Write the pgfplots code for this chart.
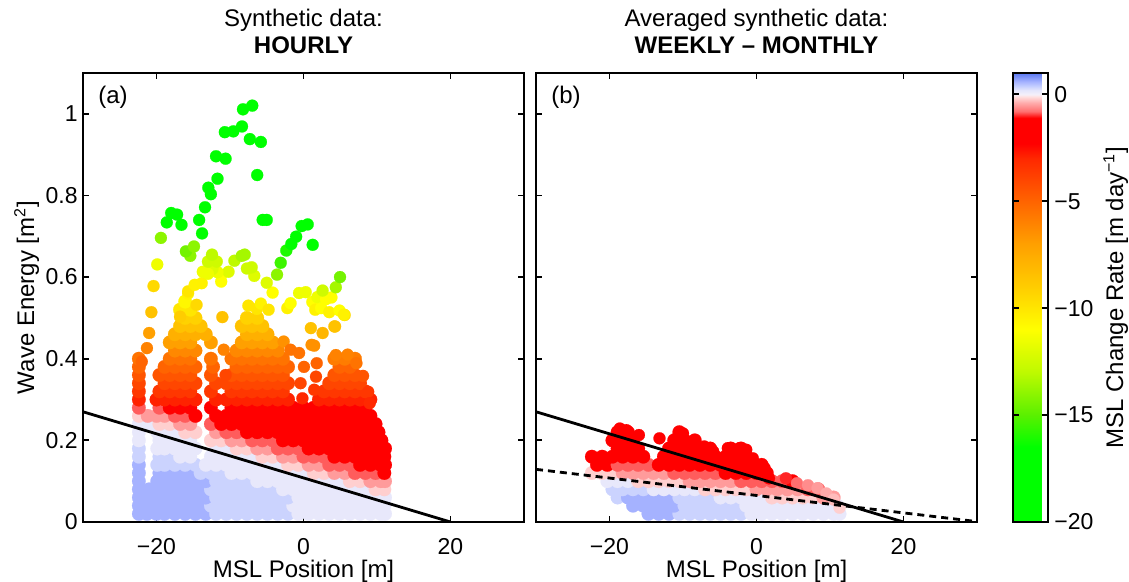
\documentclass[border=0pt]{standalone}
\usepackage{fontspec}
\setmainfont{Liberation Sans}
\usepackage{pgfplots}
\pgfplotsset{compat=1.18}
\usepackage{pgfplotstable}

\pgfplotsset{
  colormap={msl}{rgb255(0pt)=(0,255,0); rgb255(35pt)=(0,255,0); rgb255(50pt)=(90,240,0); rgb255(70pt)=(190,250,0); rgb255(90pt)=(255,255,0); rgb255(110pt)=(255,205,0); rgb255(130pt)=(255,160,0); rgb255(150pt)=(255,100,0); rgb255(170pt)=(255,40,0); rgb255(177pt)=(255,0,0); rgb255(189pt)=(255,0,0); rgb255(192pt)=(255,110,110); rgb255(196pt)=(255,170,170); rgb255(199pt)=(255,225,225); rgb255(200pt)=(245,240,250); rgb255(202pt)=(228,230,252); rgb255(204pt)=(195,205,255); rgb255(206pt)=(165,178,255); rgb255(210pt)=(90,120,240)},
  colorbar shift/.style={xshift=18pt},
  myax/.style={
    scale only axis, width=220.5pt, height=224.5pt,
    xmin=-30, xmax=30, ymin=0, ymax=1.1,
    clip marker paths=true,
    colormap name=msl, point meta min=-20, point meta max=1,
    xtick={-20,0,20}, xticklabels={−20,0,20},
    ytick={0,0.2,0.4,0.6,0.8,1},
    tick align=inside, xtick pos=both, ytick pos=both,
    major tick length=3pt,
    axis line style={line width=0.9pt},
    every tick/.style={black, line width=0.9pt},
    tick label style={font=\fontsize{11.5}{13}\selectfont},
    xticklabel style={anchor=base, inner sep=0pt, yshift=-16.5pt},
    yticklabel style={anchor=east, inner sep=0pt, xshift=-2.5pt},
    every axis x label/.style={at={(axis description cs:0.5,0)}, anchor=base, inner sep=0pt, yshift=-28pt, font=\fontsize{12}{14}\selectfont},
    every axis y label/.style={at={(axis description cs:-0.111,0.5)}, rotate=90, anchor=base, inner sep=0pt, font=\fontsize{12}{14}\selectfont},
    every axis title/.style={at={(axis description cs:0.5,1)}, anchor=south, inner sep=0pt, yshift=9.5pt, align=center, font=\fontsize{12}{13.5}\selectfont},
  },
  dots/.style={scatter, only marks, mark=*, mark size=3.4pt, point meta=explicit,
    scatter/use mapped color={draw=mapped color, fill=mapped color},
    mark options={line width=0.1pt}},
  sdots/.style={dots, mark size=3pt},
}

% Panel (a): dense cloud (x = MSL position, y = wave energy, c = MSL change rate)
\pgfplotstableread[row sep=\\]{
x y c\\
-22.4 0.02 0.6\\ -21.3 0.02 0.6\\ -20.0 0.02 0.6\\ -18.9 0.02 0.6\\ -17.5 0.02 0.6\\ -16.1 0.02 0.6\\ -14.7 0.02 0.6\\ -13.3 0.02 0.6\\ -11.9 0.02 0.35\\ -10.5 0.02 0.35\\ -9.1 0.02 0.35\\ -7.7 0.02 0.35\\ -6.3 0.02 0.35\\ -4.9 0.02 0.35\\ -3.5 0.02 0.35\\ -2.1 0.02 0.35\\ -0.7 0.02 0.15\\ 0.7 0.02 0.15\\ 2.1 0.02 0.15\\ 3.5 0.02 0.15\\ 4.9 0.02 0.15\\ 6.3 0.02 0.15\\ 7.7 0.02 0.15\\ 9.1 0.02 0.15\\ 10.5 0.02 0.15\\ 11.1 0.02 0.15\\
-22.4 0.04 0.6\\ -21.0 0.04 0.6\\ -19.6 0.04 0.6\\ -18.2 0.04 0.6\\ -16.8 0.04 0.6\\ -15.4 0.04 0.6\\ -14.0 0.04 0.6\\ -12.6 0.04 0.35\\ -11.2 0.04 0.35\\ -9.8 0.04 0.35\\ -8.4 0.04 0.35\\ -7.0 0.04 0.35\\ -5.6 0.04 0.35\\ -4.2 0.04 0.35\\ -2.8 0.04 0.35\\ -1.4 0.04 0.15\\ 0.0 0.04 0.15\\ 1.4 0.04 0.15\\ 2.8 0.04 0.15\\ 4.2 0.04 0.15\\ 5.6 0.04 0.15\\ 7.0 0.04 0.15\\ 8.4 0.04 0.15\\ 9.8 0.04 0.15\\ 11.0 0.04 0.15\\
-22.4 0.06 0.6\\ -21.3 0.06 0.6\\ -20.0 0.06 0.6\\ -18.9 0.06 0.6\\ -17.5 0.06 0.6\\ -16.1 0.06 0.6\\ -14.7 0.06 0.6\\ -13.3 0.06 0.6\\ -11.9 0.06 0.35\\ -10.5 0.06 0.35\\ -9.1 0.06 0.35\\ -7.7 0.06 0.35\\ -6.3 0.06 0.35\\ -4.9 0.06 0.35\\ -3.5 0.06 0.35\\ -2.1 0.06 0.35\\ -0.7 0.06 0.15\\ 0.7 0.06 0.15\\ 2.1 0.06 0.15\\ 3.5 0.06 0.15\\ 4.9 0.06 0.15\\ 6.3 0.06 0.15\\ 7.7 0.06 0.15\\ 9.1 0.06 0.15\\ 10.5 0.06 0.15\\ 11.1 0.06 0.15\\
-22.4 0.08 0.6\\ -21.0 0.08 0.6\\ -19.6 0.08 0.6\\ -18.2 0.08 0.6\\ -16.8 0.08 0.6\\ -15.4 0.08 0.6\\ -14.0 0.08 0.6\\ -12.6 0.08 0.35\\ -11.2 0.08 0.35\\ -9.8 0.08 0.35\\ -8.4 0.08 0.35\\ -7.0 0.08 0.35\\ -5.6 0.08 0.35\\ -4.2 0.08 0.35\\ -2.8 0.08 0.15\\ -1.4 0.08 0.15\\ 0.0 0.08 0.15\\ 1.4 0.08 0.15\\ 2.8 0.08 0.15\\ 4.2 0.08 0.15\\ 5.6 0.08 0.15\\ 7.0 0.08 0.15\\ 8.4 0.08 0.15\\ 9.8 0.08 -0.2\\ 11.0 0.08 -0.2\\
-22.4 0.10 0.6\\ -19.9 0.10 0.6\\ -18.9 0.10 0.6\\ -17.5 0.10 0.6\\ -16.1 0.10 0.6\\ -14.7 0.10 0.6\\ -13.3 0.10 0.6\\ -11.9 0.10 0.35\\ -10.5 0.10 0.35\\ -9.1 0.10 0.35\\ -7.7 0.10 0.35\\ -6.3 0.10 0.15\\ -4.9 0.10 0.15\\ -3.5 0.10 0.15\\ -2.1 0.10 0.15\\ -0.7 0.10 0.15\\ 0.7 0.10 0.15\\ 2.1 0.10 0.15\\ 3.5 0.10 0.15\\ 4.9 0.10 0.15\\ 6.3 0.10 -0.2\\ 7.7 0.10 -0.2\\ 9.1 0.10 -0.5\\ 10.5 0.10 -0.5\\ 11.1 0.10 -0.5\\
-22.4 0.12 0.6\\ -19.6 0.12 0.6\\ -18.2 0.12 0.6\\ -16.8 0.12 0.6\\ -15.4 0.12 0.6\\ -14.0 0.12 0.35\\ -12.6 0.12 0.35\\ -11.2 0.12 0.35\\ -9.8 0.12 0.15\\ -8.4 0.12 0.15\\ -7.0 0.12 0.15\\ -5.6 0.12 0.15\\ -4.2 0.12 0.15\\ -2.8 0.12 0.15\\ -1.4 0.12 0.15\\ 0.0 0.12 0.15\\ 1.4 0.12 -0.2\\ 2.8 0.12 -0.2\\ 4.2 0.12 -0.5\\ 5.6 0.12 -0.5\\ 7.0 0.12 -0.85\\ 8.4 0.12 -0.85\\ 9.8 0.12 -0.85\\ 11.0 0.12 -2\\
-22.4 0.14 0.6\\ -19.9 0.14 0.35\\ -18.9 0.14 0.35\\ -17.5 0.14 0.35\\ -16.1 0.14 0.35\\ -14.7 0.14 0.35\\ -13.3 0.14 0.15\\ -11.9 0.14 0.15\\ -10.5 0.14 0.15\\ -9.1 0.14 0.15\\ -7.7 0.14 0.15\\ -6.3 0.14 0.15\\ -4.9 0.14 0.15\\ -3.5 0.14 0.15\\ -2.1 0.14 -0.2\\ -0.7 0.14 -0.2\\ 0.7 0.14 -0.5\\ 2.1 0.14 -0.5\\ 3.5 0.14 -0.85\\ 4.9 0.14 -0.85\\ 6.3 0.14 -0.85\\ 7.7 0.14 -2\\ 9.1 0.14 -2\\ 10.5 0.14 -2\\ 11.1 0.14 -2\\
-22.4 0.16 0.35\\ -19.6 0.16 0.35\\ -18.2 0.16 0.35\\ -16.8 0.16 0.15\\ -15.4 0.16 0.15\\ -12.6 0.16 0.15\\ -11.2 0.16 0.15\\ -9.8 0.16 0.15\\ -8.4 0.16 0.15\\ -7.0 0.16 0.15\\ -5.6 0.16 -0.2\\ -4.2 0.16 -0.2\\ -2.8 0.16 -0.5\\ -1.4 0.16 -0.5\\ 0.0 0.16 -0.85\\ 1.4 0.16 -0.85\\ 2.8 0.16 -0.85\\ 4.2 0.16 -2\\ 5.6 0.16 -2\\ 7.0 0.16 -2\\ 8.4 0.16 -2\\ 9.8 0.16 -2\\ 11.0 0.16 -2\\
-22.4 0.18 0.35\\ -19.9 0.18 0.15\\ -18.9 0.18 0.15\\ -17.5 0.18 0.15\\ -16.1 0.18 0.15\\ -14.7 0.18 0.15\\ -11.9 0.18 0.15\\ -10.5 0.18 0.15\\ -9.1 0.18 -0.2\\ -7.7 0.18 -0.2\\ -6.3 0.18 -0.5\\ -4.9 0.18 -0.5\\ -3.5 0.18 -0.85\\ -2.1 0.18 -0.85\\ -0.7 0.18 -0.85\\ 0.7 0.18 -2\\ 2.1 0.18 -2\\ 3.5 0.18 -2\\ 4.9 0.18 -2\\ 6.3 0.18 -2\\ 7.7 0.18 -2\\ 9.1 0.18 -2\\ 10.5 0.18 -2\\ 11.1 0.18 -2\\
-22.4 0.20 0.15\\ -19.6 0.20 0.15\\ -18.2 0.20 0.15\\ -16.8 0.20 0.15\\ -15.4 0.20 0.15\\ -12.6 0.20 -0.2\\ -11.2 0.20 -0.2\\ -9.8 0.20 -0.5\\ -8.4 0.20 -0.5\\ -7.0 0.20 -0.85\\ -5.6 0.20 -0.85\\ -4.2 0.20 -0.85\\ -2.8 0.20 -2\\ -1.4 0.20 -2\\ 0.0 0.20 -2\\ 1.4 0.20 -2\\ 2.8 0.20 -2\\ 4.2 0.20 -2\\ 5.6 0.20 -2\\ 7.0 0.20 -2\\ 8.4 0.20 -2\\ 9.8 0.20 -2\\ 10.6 0.20 -2\\
-22.4 0.22 0.15\\ -19.9 0.22 0.15\\ -18.9 0.22 0.15\\ -17.5 0.22 0.15\\ -16.1 0.22 -0.2\\ -14.7 0.22 -0.2\\ -11.9 0.22 -0.5\\ -10.5 0.22 -0.85\\ -9.1 0.22 -0.85\\ -7.7 0.22 -2\\ -6.3 0.22 -2\\ -4.9 0.22 -2\\ -3.5 0.22 -2\\ -2.1 0.22 -2\\ -0.7 0.22 -2\\ 0.7 0.22 -2\\ 2.1 0.22 -2\\ 3.5 0.22 -2\\ 4.9 0.22 -2\\ 6.3 0.22 -2\\ 7.7 0.22 -2\\ 9.1 0.22 -2\\ 10.2 0.22 -2\\
-22.4 0.24 0.15\\ -21.0 0.24 0.15\\ -19.6 0.24 -0.2\\ -18.2 0.24 -0.2\\ -16.8 0.24 -0.5\\ -15.4 0.24 -0.5\\ -12.6 0.24 -0.85\\ -11.2 0.24 -2\\ -9.8 0.24 -2\\ -8.4 0.24 -2\\ -7.0 0.24 -2\\ -5.6 0.24 -2\\ -4.2 0.24 -2\\ -2.8 0.24 -2\\ -1.4 0.24 -2\\ 0.0 0.24 -2\\ 1.4 0.24 -2\\ 2.8 0.24 -2\\ 4.2 0.24 -2\\ 5.6 0.24 -2\\ 7.0 0.24 -2\\ 8.4 0.24 -2\\ 9.8 0.24 -2\\
-22.4 0.26 -0.2\\ -21.2 0.26 -0.5\\ -20.0 0.26 -0.5\\ -18.9 0.26 -0.5\\ -17.5 0.26 -0.85\\ -16.1 0.26 -0.85\\ -14.7 0.26 -2\\ -11.9 0.26 -2\\ -10.5 0.26 -2\\ -9.1 0.26 -2\\ -7.7 0.26 -2\\ -6.3 0.26 -2\\ -4.9 0.26 -2\\ -3.5 0.26 -2\\ -2.1 0.26 -2\\ -0.7 0.26 -2\\ 0.7 0.26 -2\\ 2.1 0.26 -2\\ 3.5 0.26 -2\\ 4.9 0.26 -2\\ 6.3 0.26 -2\\ 7.7 0.26 -2\\ 9.1 0.26 -2\\
-22.4 0.28 -0.85\\ -19.6 0.28 -0.85\\ -18.2 0.28 -2.3\\ -16.8 0.28 -2.3\\ -15.4 0.28 -2.3\\ -12.6 0.28 -2.3\\ -9.8 0.28 -2.3\\ -8.4 0.28 -2.3\\ -7.0 0.28 -2.3\\ -5.6 0.28 -2.3\\ -4.2 0.28 -2.3\\ -2.8 0.28 -2.3\\ -1.4 0.28 -2.3\\ 0.0 0.28 -2.3\\ 1.4 0.28 -2.3\\ 2.8 0.28 -2.3\\ 4.2 0.28 -2.3\\ 5.6 0.28 -2.3\\ 7.0 0.28 -2.3\\ 8.4 0.28 -2.3\\
-22.4 0.30 -2.9\\ -20.0 0.30 -2.9\\ -18.9 0.30 -2.9\\ -17.5 0.30 -2.9\\ -16.1 0.30 -2.9\\ -14.7 0.30 -2.9\\ -11.9 0.30 -2.9\\ -10.5 0.30 -2.9\\ -9.1 0.30 -2.9\\ -7.7 0.30 -2.9\\ -6.3 0.30 -2.9\\ -4.9 0.30 -2.9\\ -3.5 0.30 -2.9\\ -2.1 0.30 -2.9\\ 2.1 0.30 -2.9\\ 3.5 0.30 -2.9\\ 4.9 0.30 -2.9\\ 6.3 0.30 -2.9\\ 7.7 0.30 -2.9\\ 9.1 0.30 -2.9\\
-22.4 0.32 -3.5\\ -19.6 0.32 -3.5\\ -18.2 0.32 -3.5\\ -16.8 0.32 -3.5\\ -15.4 0.32 -3.5\\ -12.6 0.32 -3.5\\ -9.8 0.32 -3.5\\ -8.4 0.32 -3.5\\ -7.0 0.32 -3.5\\ -5.6 0.32 -3.5\\ -4.2 0.32 -3.5\\ -2.8 0.32 -3.5\\ 2.8 0.32 -3.5\\ 4.2 0.32 -3.5\\ 5.6 0.32 -3.5\\ 7.0 0.32 -3.5\\ 8.4 0.32 -3.5\\
-22.4 0.34 -4\\ -18.9 0.34 -4\\ -17.5 0.34 -4\\ -16.1 0.34 -4\\ -14.7 0.34 -4\\ -11.9 0.34 -4\\ -10.5 0.34 -4\\ -9.1 0.34 -4\\ -7.7 0.34 -4\\ -6.3 0.34 -4\\ -4.9 0.34 -4\\ -3.5 0.34 -4\\ -2.1 0.34 -4\\ 3.5 0.34 -4\\ 4.9 0.34 -4\\ 6.3 0.34 -4\\ 7.7 0.34 -4\\
-22.4 0.36 -4.5\\ -19.6 0.36 -4.5\\ -18.2 0.36 -4.5\\ -16.8 0.36 -4.5\\ -15.4 0.36 -4.5\\ -12.6 0.36 -4.5\\ -9.8 0.36 -4.5\\ -8.4 0.36 -4.5\\ -7.0 0.36 -4.5\\ -5.6 0.36 -4.5\\ -4.2 0.36 -4.5\\ -2.8 0.36 -4.5\\ 4.2 0.36 -4.5\\ 5.6 0.36 -4.5\\ 7.0 0.36 -4.5\\
-22.4 0.38 -5\\ -18.9 0.38 -5\\ -17.5 0.38 -5\\ -16.1 0.38 -5\\ -14.7 0.38 -5\\ -12.3 0.38 -5\\ -9.1 0.38 -5\\ -7.7 0.38 -5\\ -6.3 0.38 -5\\ -4.9 0.38 -5\\ -3.5 0.38 -5\\ -2.1 0.38 -5\\ 4.9 0.38 -5\\ 6.3 0.38 -5\\
-22.4 0.40 -5.5\\ -18.2 0.40 -5.5\\ -16.8 0.40 -5.5\\ -15.4 0.40 -5.5\\ -12.6 0.40 -5.5\\ -9.8 0.40 -5.5\\ -8.4 0.40 -5.5\\ -7.0 0.40 -5.5\\ -5.6 0.40 -5.5\\ -4.2 0.40 -5.5\\ -2.8 0.40 -5.5\\ 4.2 0.40 -5.8\\ 5.6 0.40 -5.8\\ 7.0 0.40 -5.8\\
-17.5 0.42 -6.2\\ -16.1 0.42 -6.2\\ -14.7 0.42 -6.2\\ -9.1 0.42 -6.2\\ -7.7 0.42 -6.2\\ -6.3 0.42 -6.2\\ -4.9 0.42 -6.2\\ -3.5 0.42 -6.2\\
-18.2 0.44 -7\\ -16.8 0.44 -7\\ -15.4 0.44 -7\\ -12.6 0.44 -7\\ -8.4 0.44 -7\\ -7.0 0.44 -7\\ -5.6 0.44 -7\\ -4.2 0.44 -7\\
-17.5 0.46 -7.7\\ -16.1 0.46 -7.7\\ -14.7 0.46 -7.7\\ -13.3 0.46 -7.7\\ -7.7 0.46 -7.7\\ -6.3 0.46 -7.7\\ -4.9 0.46 -7.7\\
-16.8 0.48 -8.5\\ -15.4 0.48 -8.5\\ -14.0 0.48 -8.5\\ -8.4 0.48 -8.5\\ -7.0 0.48 -8.5\\ -5.6 0.48 -8.5\\
-16.1 0.50 -9.2\\ -14.7 0.50 -9.2\\ -7.7 0.50 -9.2\\ -6.3 0.50 -9.2\\
-16.8 0.52 -10\\ -15.4 0.52 -10\\
-16.1 0.54 -10.7\\
}\densea

% Panel (a): separate dots above the cloud
\pgfplotstableread[row sep=\\]{
x y c\\
-22.0 0.393 -5\\ -21.3 0.426 -6\\ -21.0 0.463 -7\\ -20.7 0.514 -8.5\\ -20.4 0.578 -9.5\\ -19.9 0.631 -11.5\\
-16.8 0.503 -9\\ -15.7 0.56 -10.5\\ -14.55 0.532 -9.5\\ -15.7 0.565 -10\\ -14.8 0.581 -10.5\\ -13.85 0.585 -10.5\\
-11.04 0.502 -8.5\\ -10.85 0.422 -6\\ -10.6 0.360 -4\\
-7.5 0.53 -10\\ -6.35 0.522 -10\\ -5.8 0.535 -10.5\\ -4.75 0.520 -10\\
-2.7 0.442 -6.5\\ -1.76 0.422 -5.5\\ -0.6 0.414 -5.5\\ -0.4 0.34 -4\\ -0.15 0.303 -3\\ 0.06 0.38 -5\\
1.45 0.324 -3.5\\ 1.7 0.356 -4\\ 1.8 0.389 -5\\ 1.1 0.434 -6.5\\ 1.45 0.432 -6.5\\ 1.0 0.475 -8.5\\ 2.6 0.463 -8\\
4.2 0.479 -8.5\\ 4.3 0.479 -8.5\\ 4.4 0.409 -6\\ 6.0 0.41 -6\\ 7.2 0.389 -5.5\\ 8.1 0.358 -4.5\\ 8.8 0.319 -3.5\\ 9.0 0.291 -3\\ 5.6 0.507 -9.5\\
-2.2 0.524 -10.5\\ -1.76 0.536 -11\\ 1.2 0.539 -11\\ 1.6 0.520 -10.5\\ 2.4 0.524 -11\\ 3.5 0.514 -10.5\\ 4.9 0.518 -11\\ 5.5 0.508 -10.5\\
-0.6 0.561 -11.5\\ 0.3 0.563 -11.5\\ 1.9 0.551 -11.5\\ 3.06 0.546 -11\\ 3.8 0.55 -11\\ 2.6 0.567 -12.5\\
-4.2 0.562 -11\\ -5.0 0.586 -12\\ -6.7 0.603 -12\\ -7.7 0.621 -12.5\\ -7.05 0.624 -12.5\\ -9.4 0.640 -13\\ -8.4 0.652 -13.5\\ -8.0 0.655 -13.5\\
-11.2 0.589 -11\\ -11.2 0.605 -11\\ -10.2 0.613 -12\\ -11.7 0.612 -11.5\\ -12.4 0.620 -12\\ -13.0 0.608 -11.5\\ -13.7 0.613 -11.5\\
-13.0 0.638 -12.5\\ -11.8 0.638 -12.5\\ -12.45 0.655 -13\\ -15.4 0.652 -14\\ -16.0 0.663 -14.5\\ -14.9 0.675 -14\\
4.4 0.575 -13.5\\ 4.97 0.600 -14.5\\ -3.6 0.606 -14\\ -3.1 0.635 -15.5\\ -19.4 0.696 -14\\
-2.34 0.665 -16\\ -1.66 0.681 -16.5\\ -1.0 0.699 -16.5\\ -0.25 0.725 -17\\ 0.57 0.729 -17\\ 1.25 0.679 -16.5\\
-5.55 0.740 -17\\ -5.0 0.740 -17\\ -13.8 0.707 -16.5\\ -14.2 0.740 -17\\ -16.6 0.728 -17\\ -18.6 0.734 -17\\ -17.2 0.753 -17\\ -18.0 0.757 -17\\
-13.4 0.771 -17\\ -12.6 0.803 -17.5\\ -12.95 0.819 -17.5\\ -11.7 0.841 -17.5\\ -6.3 0.850 -18\\ -10.6 0.890 -18\\ -11.9 0.896 -18\\
-5.8 0.931 -18\\ -7.3 0.938 -18\\ -10.7 0.955 -18.5\\ -9.55 0.957 -18.5\\ -8.37 0.969 -18.5\\ -8.23 1.011 -19\\ -6.97 1.020 -19\\
}\sparsea

% Panel (b): averaged data cloud
\pgfplotstableread[row sep=\\]{
x y c\\
-14.7 0.02 0.6\\ -13.3 0.02 0.6\\ -11.9 0.02 0.6\\ -10.5 0.02 0.35\\ -9.1 0.02 0.35\\ -7.7 0.02 0.35\\ -6.3 0.02 0.35\\ -4.9 0.02 0.35\\ -3.5 0.02 0.35\\ -2.1 0.02 0.35\\ -0.7 0.02 0.15\\ 0.7 0.02 0.15\\ 2.1 0.02 0.15\\ 3.5 0.02 0.15\\ 4.9 0.02 0.15\\ 6.3 0.02 0.15\\ 7.7 0.02 0.15\\ 9.1 0.02 0.15\\ 10.5 0.02 0.15\\ 11.3 0.02 0.15\\
-16.8 0.04 0.6\\ -15.4 0.04 0.6\\ -14.0 0.04 0.6\\ -12.6 0.04 0.6\\ -11.2 0.04 0.6\\ -9.8 0.04 0.35\\ -8.4 0.04 0.35\\ -7.0 0.04 0.35\\ -5.6 0.04 0.35\\ -4.2 0.04 0.35\\ -2.8 0.04 0.35\\ -1.4 0.04 0.15\\ 0.0 0.04 0.15\\ 1.4 0.04 0.15\\ 2.8 0.04 0.15\\ 4.2 0.04 0.15\\ 5.6 0.04 0.15\\ 7.0 0.04 0.15\\ 8.4 0.04 0.15\\ 9.8 0.04 0.15\\ 11.0 0.04 0.15\\
-18.9 0.06 0.35\\ -17.5 0.06 0.6\\ -16.1 0.06 0.6\\ -14.7 0.06 0.6\\ -13.3 0.06 0.6\\ -11.9 0.06 0.6\\ -10.5 0.06 0.35\\ -9.1 0.06 0.35\\ -7.7 0.06 0.35\\ -6.3 0.06 0.35\\ -4.9 0.06 0.15\\ -3.5 0.06 0.15\\ -2.1 0.06 0.15\\ -0.7 0.06 0.15\\ 0.7 0.06 0.15\\ 2.1 0.06 -0.2\\ 3.5 0.06 -0.2\\ 4.9 0.06 -0.2\\ 6.3 0.06 -0.2\\ 7.7 0.06 -0.2\\ 9.1 0.06 -0.5\\ 10.5 0.06 -0.5\\
-19.6 0.08 0.35\\ -18.2 0.08 0.35\\ -16.8 0.08 0.35\\ -15.4 0.08 0.35\\ -14.0 0.08 0.15\\ -12.6 0.08 0.15\\ -11.2 0.08 0.15\\ -9.8 0.08 0.15\\ -8.4 0.08 0.15\\ -7.0 0.08 -0.2\\ -5.6 0.08 -0.2\\ -4.2 0.08 -0.2\\ -2.8 0.08 -0.2\\ -1.4 0.08 -0.2\\ 0.0 0.08 -0.5\\ 1.4 0.08 -0.5\\ 2.8 0.08 -0.5\\ 4.2 0.08 -0.5\\ 5.6 0.08 -0.5\\ 7.0 0.08 -0.85\\ 8.4 0.08 -0.85\\
-20.3 0.10 0.15\\ -18.9 0.10 0.15\\ -17.5 0.10 0.15\\ -16.1 0.10 -0.2\\ -14.7 0.10 -0.2\\ -13.3 0.10 -0.2\\ -11.9 0.10 -0.2\\ -10.5 0.10 -0.2\\ -9.1 0.10 -0.5\\ -7.7 0.10 -0.5\\ -6.3 0.10 -0.5\\ -4.9 0.10 -0.5\\ -3.5 0.10 -0.5\\ -2.1 0.10 -0.85\\ -0.7 0.10 -0.85\\ 0.7 0.10 -0.85\\ 2.1 0.10 -0.85\\ 3.5 0.10 -0.85\\ 4.9 0.10 -1.2\\
-22.4 0.12 -0.2\\ -21.0 0.12 -0.2\\ -19.6 0.12 -0.2\\ -18.2 0.12 -0.5\\ -16.8 0.12 -0.5\\ -15.4 0.12 -0.5\\ -14.0 0.12 -0.5\\ -12.6 0.12 -0.5\\ -11.2 0.12 -0.85\\ -9.8 0.12 -0.85\\ -8.4 0.12 -0.85\\ -7.0 0.12 -0.85\\ -5.6 0.12 -0.85\\ -4.2 0.12 -2\\ -2.8 0.12 -2\\ -1.4 0.12 -2\\ 0.0 0.12 -2\\ 1.4 0.12 -2\\
-21.7 0.14 -2\\ -20.3 0.14 -2\\ -18.9 0.14 -0.85\\ -17.5 0.14 -0.85\\ -16.1 0.14 -0.85\\ -14.7 0.14 -0.85\\ -13.3 0.14 -2\\ -11.9 0.14 -2\\ -10.5 0.14 -2\\ -9.1 0.14 -2\\ -7.7 0.14 -2\\ -6.3 0.14 -2\\ -4.9 0.14 -2\\ -3.5 0.14 -2\\ -2.1 0.14 -2\\ -0.7 0.14 -2\\ 0.7 0.14 -2\\
-22.4 0.16 -2\\ -21.0 0.16 -2\\ -19.6 0.16 -2\\ -18.2 0.16 -2\\ -16.8 0.16 -2\\ -15.4 0.16 -2\\ -12.6 0.16 -2\\ -11.2 0.16 -2\\ -9.8 0.16 -2\\ -8.4 0.16 -2\\ -7.0 0.16 -2\\ -5.6 0.16 -2\\ -4.2 0.16 -2\\ -2.8 0.16 -2\\ -1.4 0.16 -2\\
-18.9 0.18 -2\\ -17.5 0.18 -2\\ -16.1 0.18 -2\\ -11.9 0.18 -2\\ -10.5 0.18 -2\\ -9.1 0.18 -2\\ -7.7 0.18 -2\\ -6.3 0.18 -2\\ -3.5 0.18 -2\\ -2.1 0.18 -2\\
-19.6 0.20 -2\\ -18.2 0.20 -2\\ -16.8 0.20 -2\\ -11.2 0.20 -2\\ -9.8 0.20 -2\\ -8.4 0.20 -2\\
-18.9 0.22 -2\\ -17.5 0.22 -2\\ -10.5 0.22 -2\\
}\denseb

\pgfplotstableread[row sep=\\]{
x y c\\
-13.2 0.205 -2\\ -16.0 0.213 -2\\ -18.6 0.229 -2.2\\ -17.7 0.225 -2.2\\ -10.0 0.217 -2.2\\ -7.1 0.185 -2\\ -5.9 0.173 -2\\ -3.9 0.181 -2\\ -2.3 0.181 -2\\ -1.4 0.177 -2\\ -0.5 0.156 -2\\ 0.4 0.132 -2\\ 1.1 0.132 -2\\ 1.7 0.107 -1.5\\ 4.0 0.107 -1\\ 5.5 0.095 -0.8\\ 7.0 0.09 -0.6\\ 8.3 0.083 -0.5\\ 9.5 0.07 -0.4\\ 10.5 0.055 -0.3\\ 11.3 0.035 -0.2\\
}\sparseb

\begin{document}
\begin{tikzpicture}
\path[use as bounding box] (0,0) rectangle (564.5pt,291pt);

\begin{axis}[myax, at={(41.5pt,30pt)}, anchor=south west,
  yticklabels={0,0.2,0.4,0.6,0.8,1},
  title={Synthetic data:\\\textbf{HOURLY}},
  xlabel={MSL Position [m]},
  ylabel={Wave Energy [m\textsuperscript{2}]},
]
\addplot[dots] table[x=x, y=y, meta=c] {\densea};
\addplot[sdots] table[x=x, y=y, meta=c] {\sparsea};
\addplot[black, line width=1.4pt] coordinates {(-30,0.27) (20,0)};
\node[anchor=base west, inner sep=0pt, font=\fontsize{12}{14}\selectfont] at (axis description cs:0.034,0.933) {(a)};
\end{axis}

\begin{axis}[myax, at={(268pt,30pt)}, anchor=south west,
  yticklabels={\empty,\empty,\empty,\empty,\empty,\empty},
  title={Averaged synthetic data:\\\textbf{WEEKLY – MONTHLY}},
  xlabel={MSL Position [m]},
  colorbar,
  colorbar style={
    at={(parent axis.north east)}, anchor=north west,
    scale only axis, width=17.5pt, height=224.5pt,
    ytick={-20,-15,-10,-5,0}, yticklabels={−20,−15,−10,−5,0},
    tick align=inside, ytick pos=both, yticklabel pos=right,
    major tick length=3pt,
    axis line style={line width=0.9pt},
    every tick/.style={black, line width=0.9pt},
    yticklabel style={anchor=west, inner sep=0pt, xshift=3pt, font=\fontsize{11.5}{13}\selectfont},
    every axis y label/.style={at={(axis description cs:3.143,0.5)}, rotate=90, anchor=base, inner sep=0pt, font=\fontsize{12}{14}\selectfont},
    ylabel={MSL Change Rate [m day\textsuperscript{−1}]},
  },
]
\addplot[dots] table[x=x, y=y, meta=c] {\denseb};
\addplot[sdots] table[x=x, y=y, meta=c] {\sparseb};
\addplot[black, line width=1.4pt] coordinates {(-30,0.27) (20,0)};
\addplot[black, line width=1.4pt, dash pattern=on 3.5pt off 2.5pt] coordinates {(-30,0.129) (30,0.001)};
\node[anchor=base west, inner sep=0pt, font=\fontsize{12}{14}\selectfont] at (axis description cs:0.034,0.933) {(b)};
\end{axis}
\end{tikzpicture}
\end{document}
